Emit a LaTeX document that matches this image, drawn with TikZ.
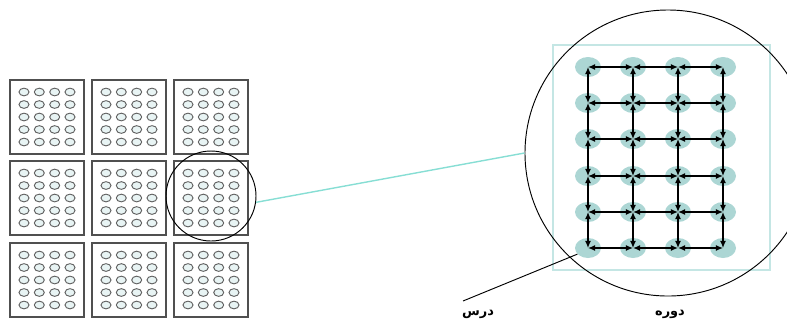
\documentclass[tikz,border=0pt]{standalone}
\usepackage{fontspec}
\newfontfamily\arabicfont[Script=Arabic]{DejaVu Sans}
\TeXXeTstate=1
\definecolor{gridgray}{RGB}{80,80,80}
\definecolor{cellfill}{RGB}{232,244,244}
\definecolor{nodeteal}{RGB}{172,214,212}
\definecolor{frameteal}{RGB}{196,230,228}
\definecolor{linkteal}{RGB}{135,222,212}
\usetikzlibrary{arrows.meta,shapes.geometric}

\begin{document}
\begin{tikzpicture}[x=0.03cm, y=-0.03cm,
    blockbox/.style={rectangle, draw=gridgray, line width=1.1pt,
                     minimum width=2.22cm, minimum height=2.22cm},
    cell/.style={ellipse, draw=gridgray!90, fill=cellfill, line width=0.8pt,
                 minimum width=0.3cm, minimum height=0.23cm, inner sep=0pt},
    unit/.style={ellipse, fill=nodeteal, minimum width=0.78cm,
                 minimum height=0.6cm, inner sep=0pt},
    zoomring/.style={circle, draw=black, line width=0.8pt, inner sep=0pt},
    link/.style={{Latex[length=6pt,width=5pt]}-{Latex[length=6pt,width=5pt]},
                 line width=1pt},
    farsi/.style={font=\arabicfont\bfseries\fontsize{11}{13}\selectfont, inner sep=1pt}
  ]
    \useasboundingbox (0,0) rectangle (787,322);
    \clip (0,0) rectangle (787,322);

    % Left: 3x3 blocks of 4x5 cells
    \foreach \bc/\bx in {1/47,2/129,3/211}
      \foreach \br/\by in {1/117,2/198,3/280} {
        \node[blockbox] (b-\bc-\br) at (\bx,\by) {};
        \foreach \dx in {-23,-7.7,7.7,23}
          \foreach \dy in {-25,-12.5,0,12.5,25}
            \node[cell] at (\bx+\dx,\by+\dy) {};
      }

    % Zoomed block
    \node[zoomring, minimum size=2.7cm] (zoomsmall) at (211,196) {};

    % Right: enlarged block
    \node[rectangle, draw=frameteal, line width=1.2pt,
          minimum width=6.51cm, minimum height=6.75cm] (frame) at (661.5,157.5) {};
    \foreach \c/\gx in {1/588,2/633,3/678,4/723}
      \foreach \r/\gy in {1/67,2/103,3/139,4/176,5/212,6/248}
        \node[unit] (g-\c-\r) at (\gx,\gy) {};

    % Links between neighbouring units
    \foreach \r in {1,...,6}
      \foreach \c/\n in {1/2,2/3,3/4}
        \draw[link] (g-\c-\r.center) -- (g-\n-\r.center);
    \foreach \c in {1,...,4}
      \foreach \r/\n in {1/2,2/3,3/4,4/5,5/6}
        \draw[link] (g-\c-\r.center) -- (g-\c-\n.center);

    \node[zoomring, minimum size=8.58cm] (zoombig) at (668,153) {};
    \draw[linkteal, line width=1.2pt] (zoomsmall.-8) -- (zoombig.180);

    % Labels
    \node[farsi] (dars) at (478,314) {\beginR درس\endR};
    \node[farsi] (dore) at (670,314) {\beginR دوره\endR};
    \coordinate (darsTip) at (463,301);
    \draw[line width=0.8pt] (darsTip) -- (g-1-6.210);
  \end{tikzpicture}
\end{document}
